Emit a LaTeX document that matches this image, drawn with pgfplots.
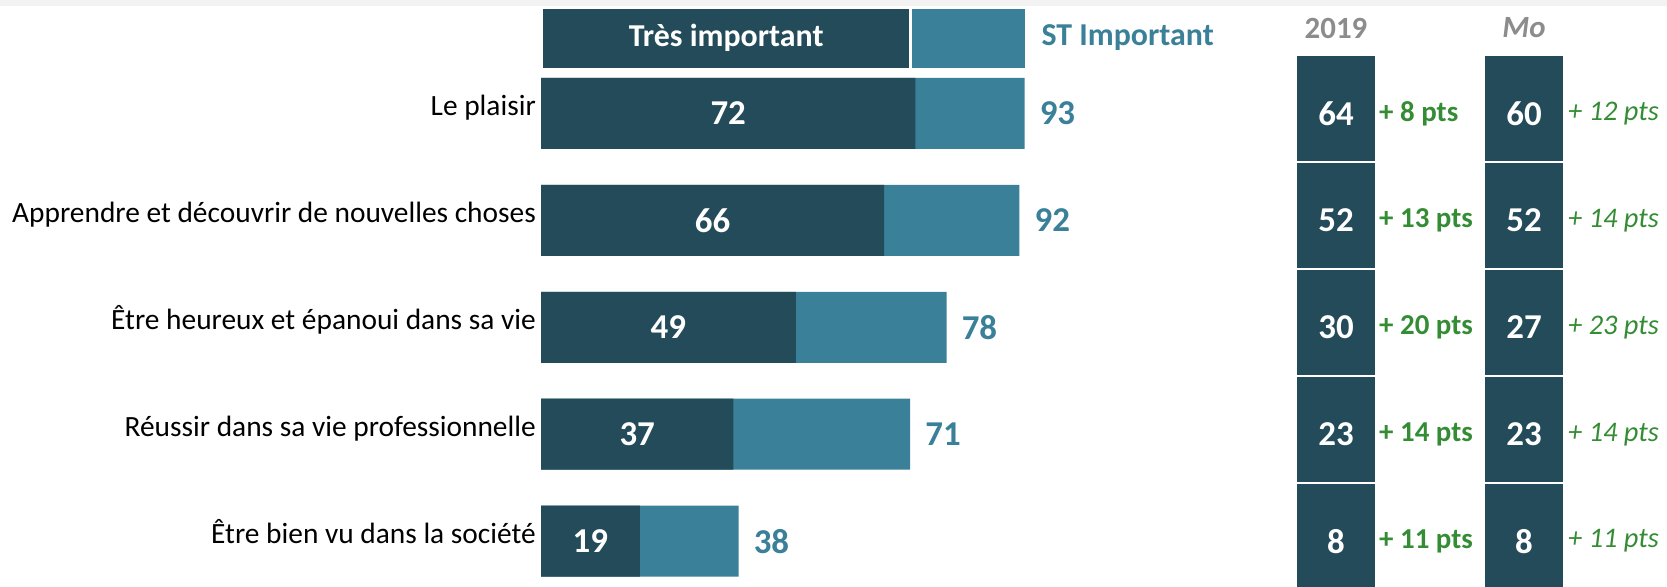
\documentclass[border=0pt]{standalone}
\usepackage{fontspec}
\setmainfont{Carlito}
\usepackage{pgfplots}
\pgfplotsset{compat=1.18}
\usepackage{pgfplotstable}

\definecolor{dark}{RGB}{35,75,90}
\definecolor{light}{RGB}{58,128,153}
\definecolor{pts}{RGB}{52,140,52}
\definecolor{hdr}{RGB}{140,140,140}
\definecolor{strip}{RGB}{242,242,242}

% tres important / total (ST important)
\pgfplotstableread{
y tres total
1 72 93
2 66 92
3 49 78
4 37 71
5 19 38
}\scores

\pgfplotstableread{
y val diff
1 64 {+ 8 pts}
2 52 {+ 13 pts}
3 30 {+ 20 pts}
4 23 {+ 14 pts}
5 8 {+ 11 pts}
}\yearold

\pgfplotstableread{
y val diff
1 60 {+ 12 pts}
2 52 {+ 14 pts}
3 27 {+ 23 pts}
4 23 {+ 14 pts}
5 8 {+ 11 pts}
}\mo

\pgfplotsset{
  base/.style={
    scale only axis, height=587bp,
    y dir=reverse, ymin=-0.0617, ymax=5.4294,
    axis line style={draw=none}, major tick length=0pt,
    xtick=\empty, ytick=\empty, clip=false,
    anchor=south west,
  },
  boxcol/.style={
    base, width=80bp, xmin=0, xmax=1,
    title style={at={(0.5,1)}, anchor=center, yshift=-34bp, text=hdr},
  },
}

\begin{document}
\begin{tikzpicture}
\useasboundingbox (0,0) rectangle (1667bp,587bp);
\fill[strip] (0,581bp) rectangle (1667bp,587bp);

\begin{axis}[base, at={(0,0)}, width=1667bp,
  xmin=-104.04, xmax=216.54,
  ytick={1,2,3,4,5},
  yticklabels={Le plaisir, Apprendre et découvrir de nouvelles choses,
    Être heureux et épanoui dans sa vie, Réussir dans sa vie professionnelle,
    Être bien vu dans la société},
  yticklabel style={anchor=mid east, inner sep=0pt, xshift=536bp,
    font=\fontsize{29.5}{32}\selectfont},
]
% header
\addplot[xbar, bar shift=0pt, bar width=62bp, fill=light, draw=white, line width=3bp,
  nodes near coords={ST Important},
  every node near coord/.append style={anchor=west, inner sep=0pt, xshift=14bp,
    text=light, font=\bfseries\fontsize{32}{34}\selectfont}]
  coordinates {(93.3,0.294)};
\addplot[xbar, bar shift=0pt, bar width=62bp, fill=dark, draw=white, line width=3bp,
  nodes near coords={Très important},
  every node near coord/.append style={anchor=center, inner sep=0pt, xshift=-184bp,
    text=white, font=\bfseries\fontsize{32}{34}\selectfont}]
  coordinates {(71,0.294)};
% bars
\addplot[xbar, bar shift=0pt, bar width=71bp, fill=light, draw=none,
  point meta=explicit symbolic, nodes near coords,
  every node near coord/.append style={anchor=west, inner sep=0pt, xshift=15bp,
    text=light, font=\bfseries\fontsize{35}{38}\selectfont}]
  table[x=total, y=y, meta=total] {\scores};
\addplot[xbar, bar shift=0pt, bar width=71bp, fill=dark, draw=none]
  table[x=tres, y=y] {\scores};
\addplot[xbar, bar shift=0pt, bar width=1bp, fill=none, draw=none,
  point meta=explicit symbolic, nodes near coords,
  every node near coord/.append style={anchor=center, inner sep=0pt,
    text=white, font=\bfseries\fontsize{35}{38}\selectfont}]
  table[x expr=\thisrow{tres}/2, y=y, meta=tres] {\scores};
\end{axis}

% 2019 column
\begin{axis}[boxcol, at={(1296bp,0)}, title={2019},
  title style={font=\bfseries\fontsize{31}{34}\selectfont}]
\addplot[xbar, bar shift=5bp, bar width=106.9bp, fill=dark, draw=white, line width=2bp,
  point meta=explicit symbolic, nodes near coords,
  every node near coord/.append style={anchor=center, inner sep=0pt, xshift=-40bp,
    text=white, font=\bfseries\fontsize{35}{38}\selectfont}]
  table[x expr=1, y=y, meta=val] {\yearold};
\addplot[xbar, bar shift=0pt, bar width=1bp, fill=none, draw=none,
  point meta=explicit symbolic, nodes near coords,
  every node near coord/.append style={anchor=west, inner sep=0pt, xshift=3bp,
    text=pts, font=\bfseries\fontsize{29}{31}\selectfont}]
  table[x expr=1, y=y, meta=diff] {\yearold};
\end{axis}

% Mo column
\begin{axis}[boxcol, at={(1484bp,0)}, title={Mo},
  title style={font=\bfseries\itshape\fontsize{31}{34}\selectfont}]
\addplot[xbar, bar shift=5bp, bar width=106.9bp, fill=dark, draw=white, line width=2bp,
  point meta=explicit symbolic, nodes near coords,
  every node near coord/.append style={anchor=center, inner sep=0pt, xshift=-40bp,
    text=white, font=\bfseries\fontsize{35}{38}\selectfont}]
  table[x expr=1, y=y, meta=val] {\mo};
\addplot[xbar, bar shift=0pt, bar width=1bp, fill=none, draw=none,
  point meta=explicit symbolic, nodes near coords,
  every node near coord/.append style={anchor=west, inner sep=0pt, xshift=4bp,
    text=pts, font=\itshape\fontsize{28.5}{30}\selectfont}]
  table[x expr=1, y=y, meta=diff] {\mo};
\end{axis}
\end{tikzpicture}
\end{document}
